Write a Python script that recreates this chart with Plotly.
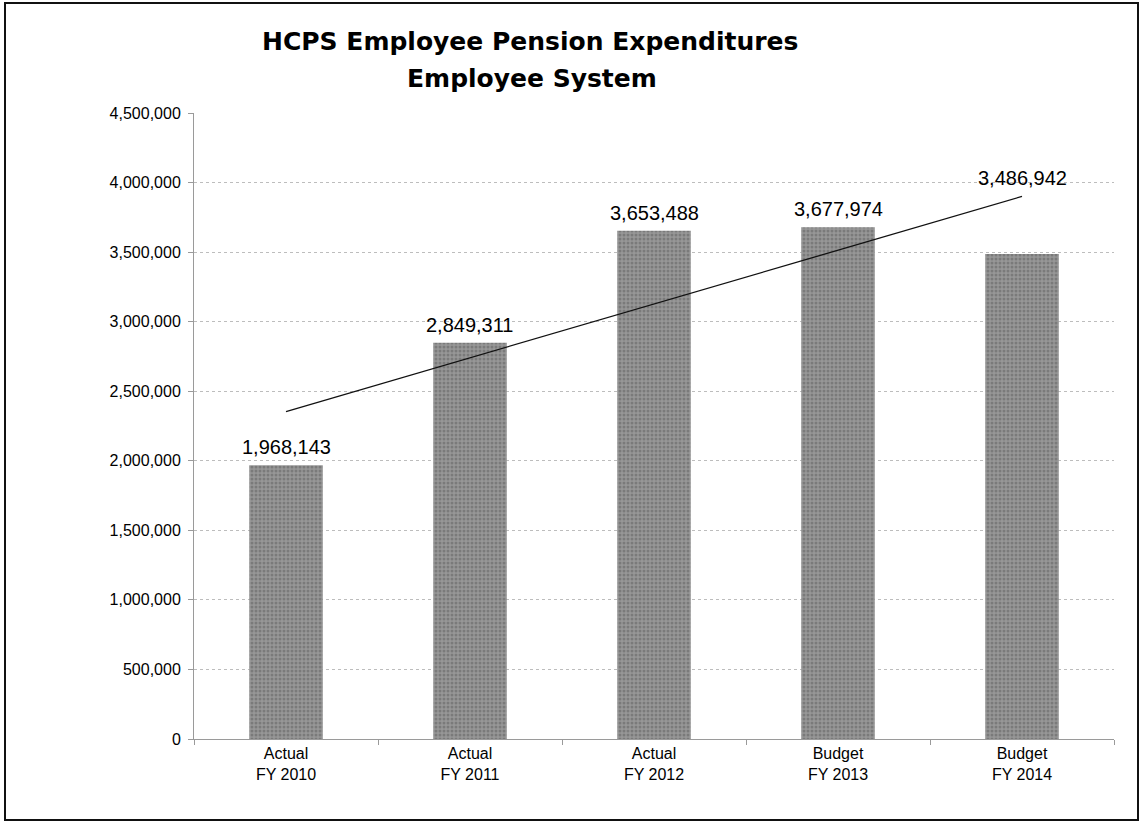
import numpy as np
import plotly.graph_objects as go

# ---- data ----
categories = ["Actual<br>FY 2010", "Actual<br>FY 2011", "Actual<br>FY 2012",
              "Budget<br>FY 2013", "Budget<br>FY 2014"]
expenditures = [1968143, 2849311, 3653488, 3677974, 3486942]
title_line1 = "HCPS Employee Pension Expenditures"
title_line2 = "Employee System"
y_tick_values = [0, 500000, 1000000, 1500000, 2000000, 2500000,
                 3000000, 3500000, 4000000, 4500000]

# ---- layout geometry (pixels) ----
W, H = 1142, 824
L, R, T, B = 194, 28, 113, 85
PW, PH = W - L - R, H - T - B


def px_x(x):
    return (x - L) / PW


def px_y(y):
    return (H - B - y) / PH


# linear trendline fitted to the data
idx = np.arange(len(expenditures))
slope, intercept = np.polyfit(idx, expenditures, 1)
trend = slope * idx + intercept

fig = go.Figure()
fig.add_trace(go.Bar(
    x=categories, y=expenditures,
    marker=dict(color="#8a8a8a", line=dict(width=0),
                pattern=dict(shape=".", fgcolor="#5e5e5e", bgcolor="#979797",
                             size=4, solidity=0.45)),
    width=0.4, showlegend=False, hoverinfo="skip",
))
fig.add_trace(go.Scatter(
    x=categories, y=trend, mode="lines",
    line=dict(color="#111111", width=1.3), showlegend=False, hoverinfo="skip",
))

annotations = []
last = len(categories) - 1
for i, (c, v, t) in enumerate(zip(categories, expenditures, trend)):
    # the last label sits above the end of the trendline, the others above their bars
    anchor = t if i == last else v
    annotations.append(dict(
        x=c, y=anchor, xref="x", yref="y", text=f"{v:,}",
        showarrow=False, yanchor="middle", yshift=18,
        font=dict(family="Liberation Sans, Arial", size=20, color="#000"),
    ))
annotations.append(dict(
    x=px_x(530), y=px_y(41), xref="paper", yref="paper", text=f"<b>{title_line1}</b>",
    showarrow=False, xanchor="center", yanchor="middle",
    font=dict(family="DejaVu Sans", size=25, color="#000"),
))
annotations.append(dict(
    x=px_x(532), y=px_y(78), xref="paper", yref="paper", text=f"<b>{title_line2}</b>",
    showarrow=False, xanchor="center", yanchor="middle",
    font=dict(family="DejaVu Sans", size=25, color="#000"),
))

fig.update_layout(
    width=W, height=H,
    margin=dict(l=L, r=R, t=T, b=B, pad=0),
    paper_bgcolor="white", plot_bgcolor="white",
    font=dict(family="Liberation Sans, Arial", color="#000"),
    annotations=annotations,
    bargap=0.6,
    shapes=[dict(type="rect", xref="paper", yref="paper",
                 x0=px_x(5), x1=px_x(1138), y0=px_y(820), y1=px_y(3),
                 line=dict(color="#111", width=2), fillcolor="rgba(0,0,0,0)",
                 layer="below")],
)
fig.update_xaxes(
    type="category", showgrid=False, showline=True, linecolor="#9a9a9a", linewidth=1,
    ticks="outside", tickson="boundaries", ticklen=5, tickcolor="#9a9a9a",
    tickfont=dict(size=16, family="Liberation Sans, Arial", color="#000"),
    range=[-0.5, len(categories) - 0.5], fixedrange=True,
)
fig.update_yaxes(
    range=[0, 4500000], tickvals=y_tick_values, tickformat=",d",
    showgrid=True, gridcolor="#bdbdbd", griddash="dot", gridwidth=1,
    showline=True, linecolor="#9a9a9a", linewidth=1,
    ticks="outside", ticklen=5, tickcolor="#9a9a9a",
    tickfont=dict(size=16, family="Liberation Sans, Arial", color="#000"),
    ticklabelstandoff=4, zeroline=False,
)

fig.write_html(
    "out.html",
    config={"displayModeBar": False},
    post_script="document.body.style.margin='0';document.body.style.overflow='hidden';",
)
